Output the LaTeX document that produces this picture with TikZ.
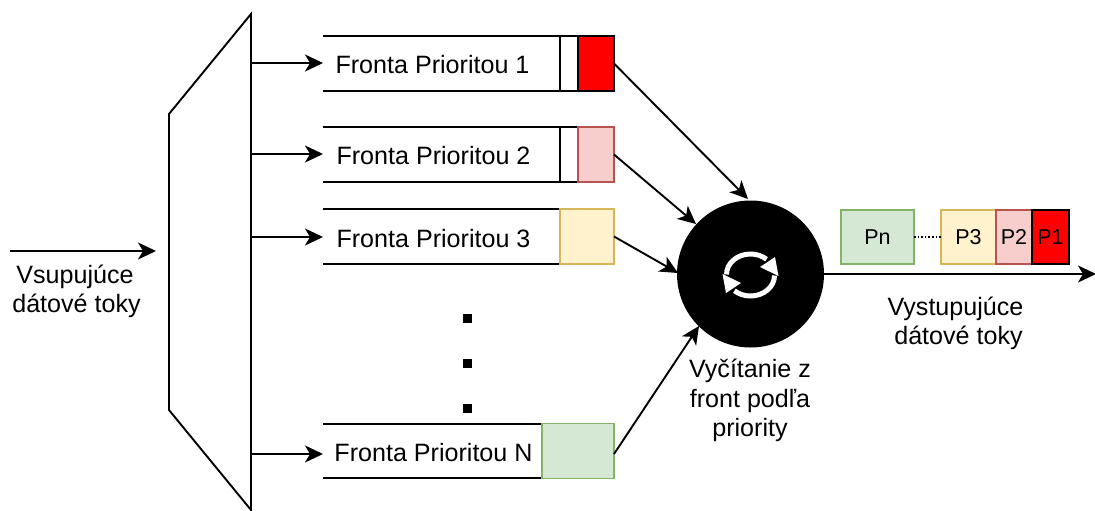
\documentclass[tikz,border=0pt]{standalone}
\usepackage{fontspec}
\setmainfont{Liberation Sans}
\usetikzlibrary{arrows.meta}
\definecolor{redF}{HTML}{FF0000}
\definecolor{pinkF}{HTML}{F8CECC}\definecolor{pinkD}{HTML}{B85450}
\definecolor{yelF}{HTML}{FFF2CC}\definecolor{yelD}{HTML}{D6B656}
\definecolor{grnF}{HTML}{D5E8D4}\definecolor{grnD}{HTML}{82B366}
\tikzset{
 x=1pt,y=-1pt,
 every node/.style={inner sep=0pt,outer sep=0pt},
 line/.style={line width=1.9pt,black},
 conn/.style={line width=1.9pt,black,-{Stealth[length=18pt,width=17pt,inset=5pt]}},
 lbl/.style={font=\fontsize{25.1}{29.3}\selectfont,align=center,text=black,anchor=center},
 plbl/.style={font=\fontsize{21.5}{25}\selectfont,text=black},
 qbox/.style={minimum height=55pt,line width=1.9pt,rectangle},
 pbox/.style={minimum height=54pt,line width=1.9pt,rectangle},
 dotn/.style={fill=black,minimum width=9pt,minimum height=9pt,rectangle},
 ico/.style={line width=5pt,white},
 icotip/.style={fill=white,draw=none},
}
\begin{document}
\begin{tikzpicture}
\useasboundingbox (0,0) rectangle (1095,511);
% trapezoid
\draw[line,line join=miter] (251,14) -- (169,114) -- (169,410) -- (251,510) -- cycle;
\coordinate (t1) at (251,63);\coordinate (t2) at (251,154);\coordinate (t3) at (251,237);\coordinate (t4) at (251,454);
% queues
\draw[line] (560,36) -- (323,36);\draw[line] (323,91) -- (560,91) -- (560,36);\draw[line] (560,36) -- (614,36);\draw[line] (560,91) -- (578,91);
\draw[line] (578,127) -- (323,127);\draw[line] (323,182) -- (578,182);\draw[line] (560,127) -- (560,182);
\draw[line] (323,209) -- (560,209);\draw[line] (323,264) -- (560,264);
\draw[line] (323,424) -- (542,424);\draw[line] (323,478) -- (542,478);
\node[qbox,draw=black,fill=redF,minimum width=36pt] (b1) at (596,63.5) {};
\node[qbox,draw=pinkD,fill=pinkF,minimum width=36pt] (b2) at (596,154.5) {};
\node[qbox,draw=yelD,fill=yelF,minimum width=54pt] (b3) at (587,236.5) {};
\node[qbox,draw=grnD,fill=grnF,minimum width=72pt] (b4) at (578,451) {};
\node[lbl] (l1) at (432.5,65) {Fronta Prioritou 1};
\node[lbl] (l2) at (433.5,156) {Fronta Prioritou 2};
\node[lbl] (l3) at (433.5,238.5) {Fronta Prioritou 3};
\node[lbl] (l4) at (433.5,453) {Fronta Prioritou N};
% dots
\node[dotn] (d1) at (467,318) {};\node[dotn] (d2) at (467,363) {};\node[dotn] (d3) at (467,408) {};
% input
\coordinate (in) at (10,251);\coordinate (inE) at (156,251);
\draw[conn] (in) -- (inE);
\foreach \i/\y in {1/63,2/154,3/237,4/454}{\coordinate (e\i) at (323,\y);\draw[conn] (t\i) -- (e\i);}
% round robin
\node[circle,fill=black,minimum size=147pt] (rr) at (750.5,274) {};
\draw[conn] (b1.east) -- (748,199);
\draw[conn] (b2.east) -- (696,224);
\draw[conn] (b3.east) -- (678,273);
\coordinate (b4e) at (614,454);
\draw[conn] (b4e) -- (699,326);
% icon
\draw[ico] (726.5,274.5) arc[start angle=180,end angle=312,x radius=24,y radius=20.5];
\draw[ico] (774.5,275.5) arc[start angle=0,end angle=132,x radius=24,y radius=20.5];
\fill[icotip] (775,257) -- (778.5,276) -- (760,267) -- cycle;
\fill[icotip] (726,293) -- (722.5,274) -- (741,283) -- cycle;
% output
\coordinate (oe) at (1096,274);
\draw[conn] (rr.east) -- (oe);
\node[pbox,draw=grnD,fill=grnF,minimum width=73pt] (pn) at (877.5,237) {};
\node[plbl] at (pn) {Pn};
\node[pbox,draw=yelD,fill=yelF,minimum width=55pt] (p3) at (968.5,237) {};
\node[plbl] at (p3) {P3};
\node[pbox,draw=pinkD,fill=pinkF,minimum width=36pt] (p2) at (1014,237) {};
\node[plbl] at (p2) {P2};
\node[pbox,draw=black,fill=redF,minimum width=37pt] (p1) at (1050.5,237) {};
\node[plbl] at (p1) {P1};
\draw[line width=1.6pt,dotted] (pn.east) -- (p3.west);
% labels
\node[lbl] (tin) at (75,291.5) {Vsupujúce\\\hspace*{3pt}dátové toky};
\node[lbl] (tread) at (750,400.5) {Vyčítanie z\\front podľa\\priority};
\node[lbl] (tout) at (955.5,323.5) {Vystupujúce\\\hspace*{6pt}dátové toky};
\end{tikzpicture}
\end{document}
